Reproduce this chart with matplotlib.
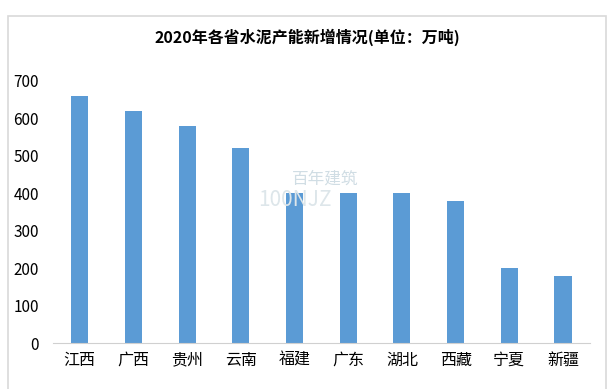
import matplotlib
matplotlib.use('Agg')
import matplotlib.pyplot as plt
from matplotlib.patches import Rectangle

plt.rcParams['font.family'] = ['Noto Sans CJK SC', 'DejaVu Sans']

# data
provinces = ['江西', '广西', '贵州', '云南', '福建', '广东', '湖北', '西藏', '宁夏', '新疆']
capacity = [660, 620, 580, 520, 400, 400, 400, 380, 200, 180]
y_ticks = [0, 100, 200, 300, 400, 500, 600, 700]

fig = plt.figure(figsize=(6.15, 3.89), dpi=100)
ax = fig.add_axes([0.086, 0.1175, 0.873, 0.675])

ax.bar(range(len(provinces)), capacity, width=0.32, color='#5B9BD5', zorder=2)

ax.set_xlim(-0.5, len(provinces) - 0.5)
ax.set_ylim(0, 700)
ax.set_yticks(y_ticks)
ax.set_xticks(range(len(provinces)))
ax.set_xticklabels(provinces, fontsize=11.5)
ax.tick_params(axis='y', labelsize=11, length=0, pad=10)
ax.tick_params(axis='x', length=0, pad=6)

for s in ['top', 'right', 'left']:
    ax.spines[s].set_visible(False)
ax.spines['bottom'].set_color('#d0d0d0')

fig.text(0.5, 0.905, '2020年各省水泥产能新增情况(单位：万吨)', ha='center', va='center',
         fontsize=11.5, fontweight='bold')

# faint watermark
fig.text(0.475, 0.54, '百年建筑', fontsize=12, color='#d0dde4', ha='left', va='center', zorder=0)
fig.text(0.42, 0.485, '100NJZ', fontsize=15, color='#dde6ea', ha='left', va='center', zorder=0)

# outer frame
fig.patches.append(Rectangle((8 / 615, -0.01), 598 / 615, 1 - 16 / 389 + 0.01,
                             transform=fig.transFigure, fill=False,
                             edgecolor='#d9d9d9', linewidth=1.2))

fig.savefig('out.png', dpi=100)
